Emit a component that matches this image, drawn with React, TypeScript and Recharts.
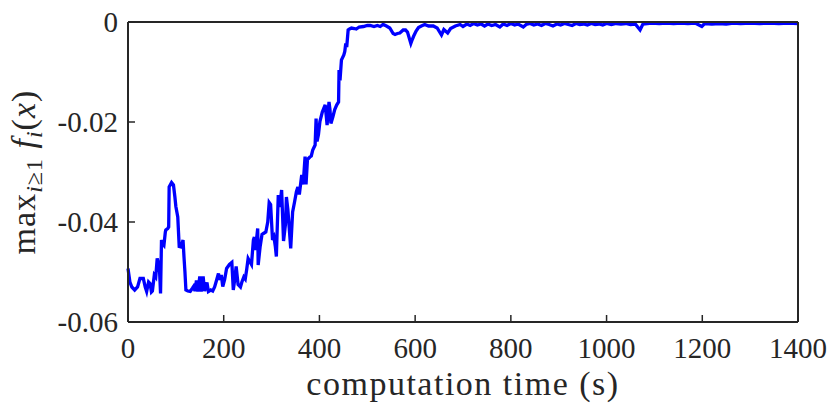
import React from "react";
import { LineChart, Line, XAxis, YAxis, Label } from "recharts";

const times: number[] = [
  0, 4, 8, 14, 20, 25, 32, 36, 39, 43, 46, 49, 51, 55, 58, 61, 64, 66, 68, 70,
  73, 75, 78, 79, 83, 85, 86, 91, 95, 98, 100, 104, 107, 111, 115, 117, 119, 121, 125, 130,
  135, 137, 140, 143, 146, 150, 153, 157, 160, 165, 168, 173, 177, 181, 184, 189, 192, 195, 198, 202,
  206, 212, 217, 220, 223, 226, 230, 235, 238, 242, 245, 248, 251, 255, 258, 262, 264, 265, 268, 271,
  272, 276, 280, 283, 288, 292, 295, 298, 302, 305, 308, 310, 314, 317, 321, 325, 329, 331, 334, 336,
  340, 344, 348, 352, 355, 358, 363, 366, 370, 372, 375, 380, 383, 386, 391, 393, 395, 398, 401, 406,
  412, 414, 416, 420, 422, 424, 428, 432, 436, 440, 441, 443, 446, 451, 453, 455, 457, 460, 463, 467,
  473, 477, 483, 492, 500, 506, 514, 521, 527, 533, 540, 547, 554, 558, 563, 568, 575, 580, 584, 591,
  594, 597, 602, 607, 613, 620, 628, 638, 646, 655, 660, 668, 674, 684, 694, 700, 708, 715, 722, 730,
  738, 745, 752, 760, 768, 777, 784, 792, 800, 808, 815, 826, 832, 840, 848, 856, 864, 872, 880, 888,
  896, 904, 912, 920, 928, 936, 944, 952, 960, 968, 976, 984, 992, 1000, 1010, 1020, 1030, 1040, 1050, 1060,
  1070, 1076, 1085, 1095, 1110, 1125, 1140, 1155, 1170, 1185, 1199, 1205, 1220, 1235, 1250, 1265, 1280, 1300, 1320, 1340,
  1360, 1380, 1400,
];

const maxValues: number[] = [
  -0.0493, -0.052, -0.053, -0.0536, -0.053, -0.0513, -0.0513, -0.053, -0.0539, -0.052, -0.0523, -0.054, -0.0538, -0.0506, -0.051, -0.0473, -0.0485, -0.05, -0.0543, -0.0436,
  -0.0445, -0.0447, -0.042, -0.0416, -0.0413, -0.041, -0.033, -0.0321, -0.0326, -0.035, -0.0369, -0.039, -0.0449, -0.045, -0.0436, -0.047, -0.05, -0.0536, -0.0538, -0.0539,
  -0.0532, -0.0529, -0.0538, -0.0517, -0.0539, -0.0509, -0.0539, -0.0509, -0.0538, -0.0521, -0.0539, -0.0536, -0.0538, -0.053, -0.052, -0.0503, -0.0516, -0.0506, -0.0529, -0.0515,
  -0.0493, -0.0485, -0.0481, -0.0536, -0.0515, -0.0489, -0.0525, -0.053, -0.052, -0.051, -0.0514, -0.0495, -0.0473, -0.048, -0.0485, -0.0436, -0.043, -0.0456, -0.044, -0.0413,
  -0.0486, -0.045, -0.0425, -0.0423, -0.042, -0.04, -0.0361, -0.0365, -0.0436, -0.043, -0.045, -0.0469, -0.0346, -0.037, -0.0336, -0.0438, -0.0405, -0.035, -0.0375, -0.04,
  -0.0453, -0.038, -0.036, -0.0339, -0.033, -0.0345, -0.0306, -0.0325, -0.0269, -0.0325, -0.0275, -0.027, -0.0268, -0.0256, -0.0246, -0.0193, -0.0239, -0.0225, -0.0199, -0.018,
  -0.0166, -0.0185, -0.0206, -0.016, -0.0175, -0.0203, -0.019, -0.0175, -0.0166, -0.016, -0.0096, -0.0117, -0.0076, -0.0066, -0.0059, -0.0043, -0.005, -0.0016, -0.0014, -0.0012,
  -0.0013, -0.0014, -0.001, -0.0009, -0.0007, -0.0007, -0.0009, -0.0007, -0.0009, -0.0005, -0.0008, -0.0012, -0.0023, -0.0025, -0.0023, -0.0022, -0.0016, -0.0016, -0.002, -0.0043,
  -0.0035, -0.0028, -0.0018, -0.0011, -0.0008, -0.0005, -0.0008, -0.0008, -0.0012, -0.0026, -0.0015, -0.0022, -0.0013, -0.0008, -0.0005, -0.0009, -0.0004, -0.0007, -0.0003, -0.0006,
  -0.0004, -0.0008, -0.0004, -0.0007, -0.0005, -0.001, -0.0004, -0.0007, -0.0003, -0.0006, -0.0004, -0.001, -0.0005, -0.0003, -0.0006, -0.0004, -0.0007, -0.0003, -0.0005, -0.0008,
  -0.0004, -0.0006, -0.0003, -0.0005, -0.0007, -0.0003, -0.0005, -0.0004, -0.0006, -0.0003, -0.0005, -0.0004, -0.0006, -0.0003, -0.0005, -0.0003, -0.0004, -0.0003, -0.0005, -0.0004,
  -0.0016, -0.0004, -0.0003, -0.0002, -0.0003, -0.0002, -0.0003, -0.0002, -0.0003, -0.0002, -0.0009, -0.0003, -0.0004, -0.0003, -0.0004, -0.0002, -0.0003, -0.0002, -0.0003, -0.0002,
  -0.0003, -0.0002, -0.0003,
];

const xTicks: number[] = [0, 200, 400, 600, 800, 1000, 1200, 1400];
const yTicks: number[] = [-0.06, -0.04, -0.02, 0];
const yTickLabels: string[] = ["-0.06", "-0.04", "-0.02", "0"];
const xLabel = "computation time (s)";

const data = times.map((t, i) => ({ t, v: maxValues[i] }));

const AXIS = "#262626";
const FONT =
  '"Liberation Serif", "LiberationSerif", "DejaVu Serif", "Nimbus Roman", "Nimbus Roman No9 L", "FreeSerif", "Tinos", "Noto Serif", "Times New Roman", Times, serif';
const fontStyle = { fontFamily: FONT };

const BottomTick = (props: any) => {
  const { x, y, payload } = props;
  return (
    <g>
      <line x1={x} y1={y} x2={x} y2={y - 7} stroke={AXIS} strokeWidth={1.5} />
      <text x={x} y={y + 36} textAnchor="middle" fontSize={29} style={fontStyle} fill={AXIS}>
        {String(payload.value)}
      </text>
    </g>
  );
};

const LeftTick = (props: any) => {
  const { x, y, payload } = props;
  const idx = yTicks.findIndex((v) => Math.abs(v - payload.value) < 1e-9);
  return (
    <g>
      <line x1={x} y1={y} x2={x + 7} y2={y} stroke={AXIS} strokeWidth={1.5} />
      <text x={x - 10} y={y + 10} textAnchor="end" fontSize={29} style={fontStyle} fill={AXIS}>
        {idx >= 0 ? yTickLabels[idx] : String(payload.value)}
      </text>
    </g>
  );
};

const XLabelContent = (props: any) => {
  const vb = props.viewBox || {};
  const cx = vb.x + vb.width / 2;
  return (
    <text x={cx} y={vb.y + 73} textAnchor="middle" fontSize={34} letterSpacing={1.5} style={fontStyle} fill={AXIS}>
      {xLabel}
    </text>
  );
};

const YLabelContent = (props: any) => {
  const vb = props.viewBox || {};
  const cx = vb.x + vb.width - 93;
  const cy = vb.y + vb.height / 2;
  return (
    <text
      x={cx}
      y={cy}
      transform={`rotate(-90, ${cx}, ${cy})`}
      textAnchor="middle"
      fontSize={34}
      letterSpacing={1}
      style={fontStyle}
      fill={AXIS}
    >
      <tspan>max</tspan>
      <tspan dy={7} fontSize={24} fontStyle="italic">i</tspan>
      <tspan fontSize={24}>≥1</tspan>
      <tspan dy={-7}> </tspan>
      <tspan fontStyle="italic">f</tspan>
      <tspan dy={7} fontSize={24} fontStyle="italic">i</tspan>
      <tspan dy={-7}>(</tspan>
      <tspan fontStyle="italic">x</tspan>
      <tspan>)</tspan>
    </text>
  );
};

export default function App() {
  return (
    <div style={{ position: "absolute", left: 0, top: 0, background: "#fff", fontFamily: FONT }}>
      <LineChart width={831} height={406} data={data} margin={{ top: 22, right: 33, bottom: 83, left: 127 }}>
        <XAxis
          dataKey="t"
          type="number"
          domain={[0, 1400]}
          ticks={xTicks}
          height={1}
          tickSize={0}
          tickMargin={0}
          tickLine={false}
          tick={<BottomTick />}
          axisLine={{ stroke: AXIS, strokeWidth: 2 }}
          interval={0}
        >
          <Label content={<XLabelContent />} />
        </XAxis>
        <XAxis
          xAxisId="top"
          dataKey="t"
          type="number"
          orientation="top"
          mirror
          domain={[0, 1400]}
          ticks={xTicks}
          tickSize={7}
          tick={false}
          tickLine={{ stroke: AXIS, strokeWidth: 1.5 }}
          axisLine={{ stroke: AXIS, strokeWidth: 2 }}
          interval={0}
        />
        <YAxis
          type="number"
          domain={[-0.06, 0]}
          ticks={yTicks}
          width={1}
          tickSize={0}
          tickMargin={0}
          tickLine={false}
          tick={<LeftTick />}
          axisLine={{ stroke: AXIS, strokeWidth: 2 }}
          interval={0}
        >
          <Label content={<YLabelContent />} />
        </YAxis>
        <YAxis
          yAxisId="right"
          type="number"
          orientation="right"
          mirror
          domain={[-0.06, 0]}
          ticks={yTicks}
          tickSize={7}
          tick={false}
          tickLine={{ stroke: AXIS, strokeWidth: 1.5 }}
          axisLine={{ stroke: AXIS, strokeWidth: 2 }}
          interval={0}
        />
        <Line
          type="linear"
          dataKey="v"
          stroke="#0000FF"
          strokeWidth={3.3}
          dot={false}
          activeDot={false}
          isAnimationActive={false}
        />
      </LineChart>
    </div>
  );
}
